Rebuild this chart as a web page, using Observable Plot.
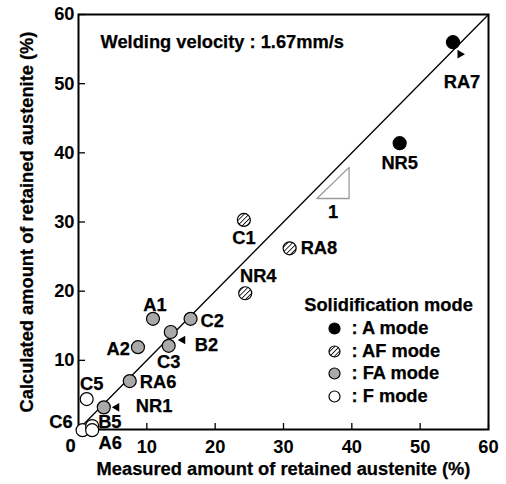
<!DOCTYPE html>
<html><head><meta charset="utf-8">
<script src="https://cdn.jsdelivr.net/npm/d3@7"></script>
<script src="https://cdn.jsdelivr.net/npm/@observablehq/plot@0.6"></script>
<style>
body{margin:0;background:#fff;}
#chart svg{font-family:"Liberation Sans",Arial,Helvetica,sans-serif;font-weight:bold;}
</style>
</head><body><div id="chart"></div>
<script>
// ---- data ----
const names      = ["RA7","NR5","C1","RA8","NR4","A1","C2","B2","C3","A2","RA6","NR1","C5","C6","B5","A6"];
const measured   = [54.8, 47.0, 24.2, 30.9, 24.4, 10.9, 16.4, 13.5, 13.2, 8.7, 7.5, 3.7, 1.2, 0.6, 2.0, 2.0];
const calculated = [56.0, 41.4, 30.3, 26.2, 19.7, 16.0, 16.0, 14.1, 12.1, 11.9, 7.0, 3.2, 4.4, -0.1, 0.5, -0.1];
const modes      = ["A","A","AF","AF","AF","FA","FA","FA","FA","FA","FA","FA","F","F","F","F"];
const modeNames  = ["A","AF","FA","F"];
const modeLabels = [": A mode",": AF mode",": FA mode",": F mode"];
const xTicks = [10,20,30,40,50,60];
const yTicks = [10,20,30,40,50,60];
const diagX = [0,60], diagY = [0,60];
const triX = [34.9,39.6,39.6,34.9], triY = [33.4,33.4,37.9,33.4];
const arrowNames = ["RA7","B2","NR1"];
const titleText = "Welding velocity : 1.67mm/s";
const legendTitle = "Solidification mode";
const xLabel = "Measured amount of retained austenite (%)";
const yLabel = "Calculated amount of retained austenite (%)";

// ---- layout (pixel offsets of labels from their points) ----
const labelLayout = {
  RA7:[9,40,"middle"], NR5:[0,20,"middle"], C1:[0,18,"middle"], RA8:[11,0,"start"],
  NR4:[13,-17,"middle"], A1:[2,-14,"middle"], C2:[10,2,"start"], B2:[24,13,"start"],
  C3:[0,16,"middle"], A2:[-8,2,"end"], RA6:[10,1,"start"], C5:[5,-15,"middle"],
  NR1:[32,-1,"start"], C6:[-10,-8,"end"], B5:[6,-4,"start"], A6:[18,13,"middle"]
};
const arrowLayout = { RA7:[7,12,-30], B2:[12,8,-90], NR1:[13,0,-90] };
const fills = {A:"black", AF:"url(#hatch)", FA:"#a9a9a9", F:"white"};

const idx = names.map((_, i) => i);
const fs = 18.3;
const thick = {fill: "black", stroke: "black", strokeWidth: 0.25};
const marks = [];

marks.push(Plot.line(diagX.map((x,i)=>[x,diagY[i]]), {stroke:"black", strokeWidth:1.3}));
marks.push(Plot.line(triX.map((x,i)=>[x,triY[i]]), {stroke:"#9a9a9a", strokeWidth:1.3}));
marks.push(Plot.text(["1"], {x: () => (triX[0]+triX[1])/2, y: () => triY[0], dy: 14, text: d=>d, fontSize: fs, ...thick}));

marks.push(Plot.frame({stroke:"black", strokeWidth:2}));

marks.push(Plot.axisX(xTicks, {tickSize:-6, tickPadding:16, fontSize:fs, fontWeight:"bold", label:null, stroke:"black", strokeWidth:1.3}));
marks.push(Plot.axisY(yTicks, {tickSize:-7, tickPadding:11, fontSize:fs, fontWeight:"bold", label:null, stroke:"black", strokeWidth:1.3}));
marks.push(Plot.text(["0"], {x: () => 0, y: () => 0, dx: -8, dy: 17, text: d=>d, fontSize: fs, ...thick}));

marks.push(Plot.text([xLabel], {frameAnchor:"bottom", dy: 40, text: d=>d, fontSize: fs, textAnchor:"middle", lineAnchor:"middle", ...thick}));
marks.push(Plot.text([yLabel], {frameAnchor:"left", dx: -51, rotate: -90, text: d=>d, fontSize: fs, textAnchor:"middle", lineAnchor:"middle", ...thick}));

marks.push(Plot.text([titleText], {frameAnchor:"top-left", dx: 22, dy: 28, text: d=>d, fontSize: fs, textAnchor:"start", lineAnchor:"middle", ...thick}));

// data points
marks.push(Plot.dot(idx, {x: i=>measured[i], y: i=>calculated[i], r: 6.5, stroke:"black", strokeWidth:1.2,
  fill: i => fills[modes[i]]}));

// arrows
for (const n of arrowNames) {
  const i = names.indexOf(n); const [dx, dy, rot] = arrowLayout[n];
  marks.push(Plot.dot([i], {x: i=>measured[i], y: i=>calculated[i], dx, dy, symbol:"triangle", r:3.2, fill:"black", stroke:"none", rotate: rot}));
}
// labels
for (const i of idx) {
  const [dx, dy, anchor] = labelLayout[names[i]];
  marks.push(Plot.text([i], {x: i=>measured[i], y: i=>calculated[i], dx, dy, text: i=>names[i], textAnchor: anchor, lineAnchor:"middle", fontSize: fs, ...thick}));
}

// legend
marks.push(Plot.text([legendTitle], {frameAnchor:"top-left", dx: 310, dy: 291, text: d=>d, fontSize: fs, textAnchor:"middle", lineAnchor:"middle", ...thick}));
const legendDy = [314, 337, 359, 382];
modeNames.forEach((m, k) => {
  marks.push(Plot.dot([m], {frameAnchor:"top-left", dx: 256, dy: legendDy[k], r: 5.5, stroke:"black", strokeWidth:1.2, fill: fills[m]}));
  marks.push(Plot.text([modeLabels[k]], {frameAnchor:"top-left", dx: 273, dy: legendDy[k], text: d=>d, fontSize: fs, textAnchor:"start", lineAnchor:"middle", ...thick}));
});

const chart = Plot.plot({
  width: 506, height: 484,
  marginLeft: 78, marginRight: 18, marginTop: 14, marginBottom: 55,
  style: {fontFamily: '"Liberation Sans", Arial, sans-serif', fontWeight: "bold", background: "white", color: "black"},
  x: {domain: [0, 60]},
  y: {domain: [0, 60]},
  color: {type: "identity"},
  marks
});

const ns = "http://www.w3.org/2000/svg";
const defs = document.createElementNS(ns, "defs");
defs.innerHTML = '<pattern id="hatch" patternUnits="userSpaceOnUse" width="3.4" height="3.4" patternTransform="rotate(45)"><rect width="3.4" height="3.4" fill="white"/><line x1="0" y1="0" x2="0" y2="3.4" stroke="black" stroke-width="1.6"/></pattern>';
chart.insertBefore(defs, chart.firstChild);
document.getElementById("chart").appendChild(chart);
</script>
</body></html>
